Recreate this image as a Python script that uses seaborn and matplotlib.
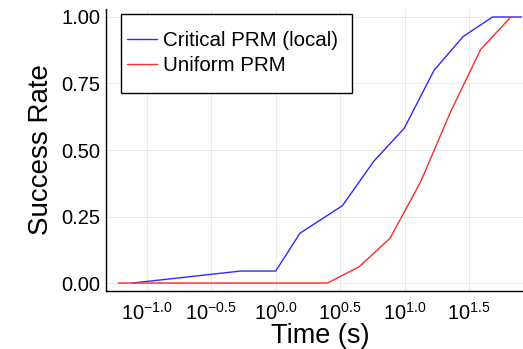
import numpy as np
import pandas as pd
import matplotlib
matplotlib.use("Agg")
import matplotlib.pyplot as plt
from matplotlib.patches import Rectangle
import seaborn as sns

# Data (time in seconds, success rate)
critical_time = [0.0774, 0.536, 1.0, 1.54, 3.29, 5.78, 9.89, 16.9, 28.3, 47.9, 80.4]
critical_rate = [0.0, 0.045, 0.045, 0.187, 0.291, 0.459, 0.581, 0.80, 0.926, 1.0, 1.0]
uniform_time = [0.060, 2.52, 4.43, 7.69, 13.3, 22.7, 38.8, 66.4]
uniform_rate = [0.0, 0.0, 0.061, 0.168, 0.381, 0.644, 0.878, 1.0]
series_names = ["Critical PRM (local)", "Uniform PRM"]
xtick_exps = [-1.0, -0.5, 0.0, 0.5, 1.0, 1.5]
ytick_vals = [0.0, 0.25, 0.5, 0.75, 1.0]

df = pd.concat([
    pd.DataFrame({"Time": critical_time, "Rate": critical_rate, "Method": series_names[0]}),
    pd.DataFrame({"Time": uniform_time, "Rate": uniform_rate, "Method": series_names[1]}),
], ignore_index=True)

sns.set_style("white")
plt.rcParams["font.family"] = ["Liberation Sans", "DejaVu Sans"]
plt.rcParams["mathtext.fontset"] = "custom"
plt.rcParams["mathtext.rm"] = "Liberation Sans"
plt.rcParams["mathtext.it"] = "Liberation Sans:italic"
plt.rcParams["mathtext.bf"] = "Liberation Sans:bold"
plt.rcParams["text.color"] = "black"
plt.rcParams["axes.labelcolor"] = "black"
plt.rcParams["xtick.color"] = "black"
plt.rcParams["ytick.color"] = "black"

fig = plt.figure(figsize=(5.23, 3.49), dpi=100)
W, H = 523, 349
left_px, right_px, bottom_px, top_px = 106, 533.6, 291, 9
ax = fig.add_axes([left_px / W, (H - bottom_px) / H, (right_px - left_px) / W, (bottom_px - top_px) / H])

sns.lineplot(data=df, x="Time", y="Rate", hue="Method",
             palette={series_names[0]: "#2a2aff", series_names[1]: "#ff2a2a"},
             linewidth=1.0, ax=ax, estimator=None, sort=False)
ax.set_xscale("log")
ax.set_xlim(10 ** -1.316, 10 ** 1.999)
ax.set_ylim(-0.03, 1.03)

ax.set_xticks([10 ** e for e in xtick_exps])
ax.set_xticklabels([r"$10^{%.1f}$" % e for e in xtick_exps])
ax.xaxis.set_minor_locator(matplotlib.ticker.NullLocator())
ax.set_yticks(ytick_vals)
ax.set_yticklabels(["%.2f" % v for v in ytick_vals])
ax.tick_params(axis="both", labelsize=14.5, direction="in", length=3, width=0.8, color="black", pad=4)
ax.tick_params(axis="x", pad=8)

ax.grid(True, color="#e6e6e6", linewidth=0.6)
for s in ["top", "right"]:
    ax.spines[s].set_visible(False)
for s in ["left", "bottom"]:
    ax.spines[s].set_color("black")
    ax.spines[s].set_linewidth(1.0)

ax.set_xlabel("Time (s)", fontsize=19.5, labelpad=-0.5)
ax.set_ylabel("Success Rate", fontsize=20, labelpad=5)

# Legend: entries placed without frame; box drawn separately to match the tall padding
def px_to_ax(xp, yp):
    return ((xp - left_px) / (right_px - left_px), (bottom_px - yp) / (bottom_px - top_px))

leg_anchor = px_to_ax(127, 31.5)
leg = ax.legend(loc="upper left", bbox_to_anchor=leg_anchor, bbox_transform=ax.transAxes,
                borderaxespad=0, borderpad=0, fontsize=14.8, frameon=False,
                handlelength=1.46, handletextpad=0.29, labelspacing=0.26, title=None)
bx0, by0 = px_to_ax(121, 93)
bx1, by1 = px_to_ax(352, 14)
ax.add_patch(Rectangle((bx0, by0), bx1 - bx0, by1 - by0, transform=ax.transAxes,
                       facecolor="white", edgecolor="black", linewidth=1.0, zorder=4))
leg.set_zorder(5)

fig.savefig("out.png", dpi=100)
